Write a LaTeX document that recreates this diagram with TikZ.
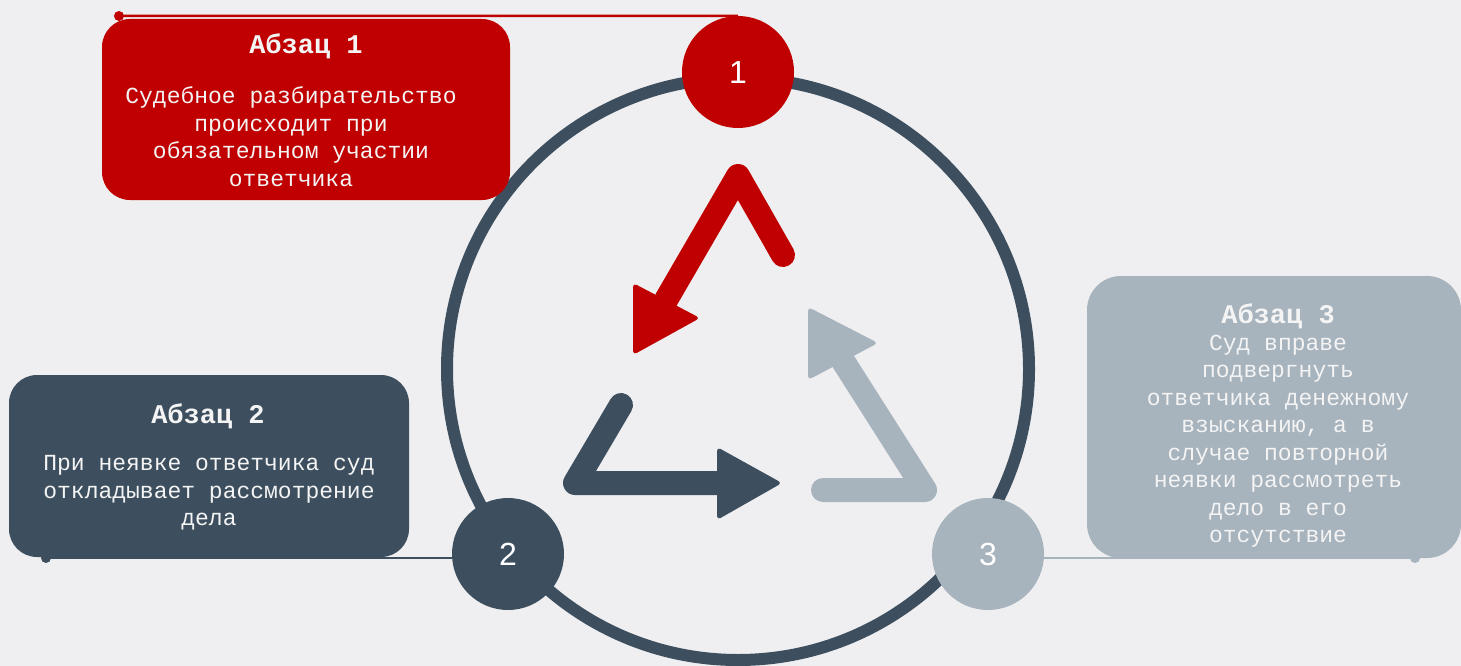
\documentclass[tikz,border=0pt]{standalone}
\usepackage{fontspec}
\setmainfont{Liberation Mono}
\newfontfamily\numfont{Liberation Sans}
\definecolor{bg}{HTML}{EFEFF1}
\definecolor{redc}{HTML}{C00000}
\definecolor{slate}{HTML}{3D4F5F}
\definecolor{grayc}{HTML}{A7B3BD}
\definecolor{txt}{HTML}{F4F4F4}
\begin{document}
\begin{tikzpicture}[x=1pt,y=-1pt,
  box/.style={rounded corners=28pt, inner sep=0pt, draw=none},
  titletext/.style={font=\fontsize{27}{30}\selectfont\bfseries, text=txt, inner sep=0pt},
  bodytext/.style={font=\fontsize{23}{27.5}\selectfont, text=txt, align=center, inner sep=0pt},
  num/.style={circle, minimum size=112pt, inner sep=0pt, font=\numfont\fontsize{32}{36}\selectfont, text=white},
  dotmark/.style={circle, minimum size=10pt, inner sep=0pt},
  link/.style={line width=2.5pt},
  shaft/.style={line width=24pt, line cap=round, line join=round},
  head/.style={rounded corners=4pt}]
\useasboundingbox (0,0) rectangle (1461,666);
\fill[bg] (0,0) rectangle (1461,666);
% ring
\draw[slate, line width=12pt] (738,369) circle[radius=291pt];
% recycle arrows
\draw[shaft, redc] (783,255) -- (738,176) -- (666,300);
\fill[redc, head] (633,283) -- (700,318) -- (633,355) -- cycle;
\draw[shaft, slate] (621,405) -- (575,483) -- (717,483);
\fill[slate, head] (717,447) -- (782,483) -- (717,520) -- cycle;
\draw[shaft, grayc] (823,490) -- (925,490) -- (843,361);
\fill[grayc, head] (808,307) -- (878,343) -- (808,380) -- cycle;
% boxes
\node[box, fill=redc, minimum width=408pt, minimum height=181pt] (b1) at (306,109.5) {};
\node[box, fill=slate, minimum width=400pt, minimum height=182pt] (b2) at (209,466) {};
\node[box, fill=grayc, rounded corners=34pt, minimum width=374pt, minimum height=282pt] (b3) at (1274,417) {};
% number circles
\node[num, fill=redc] (c1) at (738,72) {1};
\node[num, fill=slate] (c2) at (508,554) {2};
\node[num, fill=grayc] (c3) at (988,554) {3};
% dots and links
\node[dotmark, fill=redc] (d1) at (119,16) {};
\node[dotmark, fill=slate] (d2) at (46,558) {};
\node[dotmark, fill=grayc] (d3) at (1415,558) {};
\draw[link, redc] (d1.center) -- (c1.north);
\draw[link, slate] (d2.center) -- (d2.center -| c2.west);
\draw[link, grayc] (c3.east |- d3.center) -- (d3.center);
% texts
\node[titletext] (t1) at (306,46) {Абзац 1};
\node[bodytext] (x1) at (291,136.5) {Судебное разбирательство\\происходит при\\обязательном участии\\ответчика};
\node[titletext] (t2) at (208,416) {Абзац 2};
\node[bodytext] (x2) at (209,493) {При неявке ответчика суд\\откладывает рассмотрение\\дела};
\node[titletext] (t3) at (1278,316) {Абзац 3};
\node[bodytext] (x3) at (1278,441) {Суд вправе\\подвергнуть\\ответчика денежному\\взысканию, а в\\случае повторной\\неявки рассмотреть\\дело в его\\отсутствие};
\end{tikzpicture}
\end{document}
